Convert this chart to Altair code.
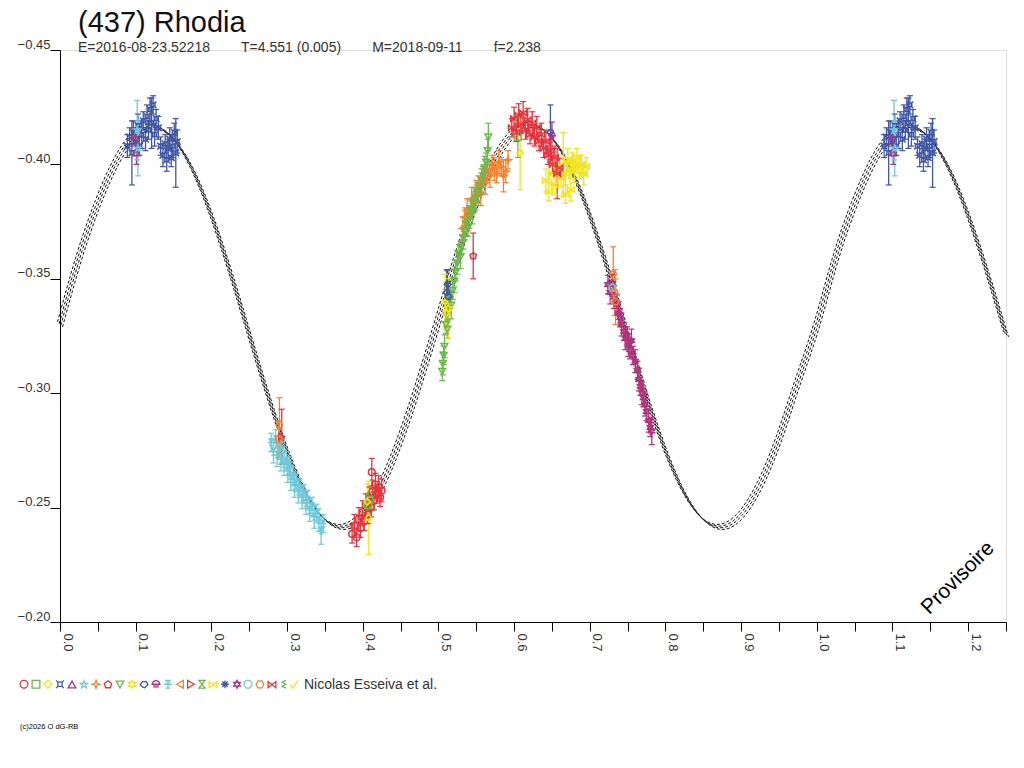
import altair as alt
import pandas as pd

FONT = "Liberation Sans"

# ---- fitted curve (phase, reduced magnitude) ----
curve_phase = [0.000, 0.025, 0.050, 0.075, 0.100, 0.125, 0.150, 0.175, 0.200, 0.225,
               0.250, 0.275, 0.300, 0.325, 0.350, 0.375, 0.400, 0.425, 0.450, 0.475,
               0.500, 0.525, 0.550, 0.575, 0.600, 0.625, 0.650, 0.675, 0.700, 0.725,
               0.750, 0.775, 0.800, 0.825, 0.850, 0.875, 0.900, 0.925, 0.950, 0.975,
               1.000, 1.025, 1.050, 1.075, 1.100, 1.125, 1.150, 1.175, 1.200, 1.225, 1.250]
curve_mag = [-0.3300, -0.3592, -0.3831, -0.4017, -0.4132, -0.4164, -0.4111, -0.3978, -0.3777, -0.3529,
             -0.3257, -0.2988, -0.2749, -0.2563, -0.2448, -0.2416, -0.2469, -0.2602, -0.2803, -0.3051,
             -0.3323, -0.3598, -0.3840, -0.4025, -0.4140, -0.4172, -0.4115, -0.3980, -0.3777, -0.3529,
             -0.3257, -0.2988, -0.2749, -0.2563, -0.2448, -0.2416, -0.2469, -0.2602, -0.2803, -0.3051,
             -0.3300, -0.3592, -0.3831, -0.4017, -0.4132, -0.4164, -0.4111, -0.3978, -0.3777, -0.3529,
             -0.3257]

# ---- sessions (legend order): colours and symbols ----
SESSIONS = ["S%02d" % i for i in range(1, 25)]
COLORS = ["#e8323c", "#6cb84c", "#f2e41c", "#3f55a5", "#b2327e", "#6fc9da", "#f3812e",
          "#e8323c", "#6cb84c", "#f2e41c", "#3f55a5", "#b2327e", "#6fc9da", "#f3812e",
          "#e8323c", "#6cb84c", "#f2e41c", "#3f55a5", "#b2327e", "#6fc9da", "#f3812e",
          "#e8323c", "#6cb84c", "#f2e41c"]
SHAPES = [
    "circle",
    "square",
    "diamond",
    "M-0.55,-0.55L0.55,-0.55L0.55,0.55L-0.55,0.55Z M-0.55,-0.55L-1,-1 M0.55,-0.55L1,-1 M0.55,0.55L1,1 M-0.55,0.55L-1,1",
    "triangle-up",
    "M0,-1L0.24,-0.33L0.95,-0.31L0.38,0.12L0.59,0.81L0,0.4L-0.59,0.81L-0.38,0.12L-0.95,-0.31L-0.24,-0.33Z",
    "M0,-1L0.25,-0.25L1,0L0.25,0.25L0,1L-0.25,0.25L-1,0L-0.25,-0.25Z",
    "M0,-1L0.95,-0.31L0.59,0.81L-0.59,0.81L-0.95,-0.31Z",
    "triangle-down",
    "M0,-1L0.3,-0.45L0.95,-0.55L0.55,0L0.95,0.55L0.3,0.45L0,1L-0.3,0.45L-0.95,0.55L-0.55,0L-0.95,-0.55L-0.3,-0.45Z",
    "M-1,0L-0.4,-0.8L0.6,-0.8L1,0L0.2,0.8L-0.4,0.6Z",
    "M-1,0L-0.7,-0.7L0,-1L0.7,-0.7L1,0Z M-0.5,0L-0.5,0.9 M0,0L0,1 M0.5,0L0.5,0.9",
    "M-0.6,-1L0.6,-1L0,-0.3Z M-1,0L1,0 M0,-0.3L0,1 M-0.6,1L0.6,1",
    "triangle-left",
    "triangle-right",
    "M-0.8,-1L0.8,-1L-0.8,1L0.8,1Z",
    "M-1,-0.8L1,0.8L1,-0.8L-1,0.8Z",
    "M0,-1L0,1 M-1,0L1,0 M-0.7,-0.7L0.7,0.7 M-0.7,0.7L0.7,-0.7",
    "M0,-1L0.87,0.5L-0.87,0.5Z M0,1L0.87,-0.5L-0.87,-0.5Z",
    "M-0.4,-1L0.4,-1L1,-0.4L1,0.4L0.4,1L-0.4,1L-1,0.4L-1,-0.4Z",
    "M-0.5,-0.9L0.5,-0.9L1,0L0.5,0.9L-0.5,0.9L-1,0Z",
    "M-1,-0.8L1,0.8L1,-0.8L-1,0.8Z",
    "M0.5,-1L-0.5,-0.5L0.5,0L-0.5,0.5L0.5,1",
    "M-1,0.2L-0.3,1L1,-1",
]

# ---- observations (phase, mag, error) per session ----
s01 = [(0.386, -0.2385, 0.004), (0.389, -0.2420, 0.005), (0.392, -0.2370, 0.004), (0.395, -0.2450, 0.005),
       (0.397, -0.2410, 0.004), (0.400, -0.2480, 0.005), (0.402, -0.2440, 0.004), (0.404, -0.2510, 0.005),
       (0.407, -0.2470, 0.004), (0.409, -0.2540, 0.005), (0.411, -0.2500, 0.004), (0.412, -0.2655, 0.006),
       (0.413, -0.2570, 0.005), (0.415, -0.2530, 0.004), (0.417, -0.2600, 0.005), (0.419, -0.2560, 0.004),
       (0.421, -0.2590, 0.005), (0.423, -0.2545, 0.004), (0.425, -0.2575, 0.005)]
s02 = [(0.407, -0.2511, 0.004), (0.409, -0.2535, 0.003), (0.605, -0.4120, 0.009)]
s03 = [(0.406, -0.2525, 0.008), (0.408, -0.2455, 0.016), (0.608, -0.4050, 0.016)]
s04 = [(0.089, -0.408, 0.005), (0.092, -0.412, 0.004), (0.095, -0.405, 0.014), (0.097, -0.414, 0.005),
       (0.100, -0.410, 0.004), (0.103, -0.417, 0.005), (0.105, -0.408, 0.004), (0.108, -0.413, 0.006),
       (0.110, -0.419, 0.004), (0.113, -0.411, 0.005), (0.115, -0.421, 0.005), (0.117, -0.415, 0.004),
       (0.119, -0.424, 0.005), (0.121, -0.418, 0.011), (0.123, -0.426, 0.004), (0.125, -0.413, 0.005),
       (0.127, -0.420, 0.004), (0.130, -0.416, 0.005), (0.133, -0.408, 0.004), (0.136, -0.404, 0.005),
       (0.139, -0.409, 0.004), (0.141, -0.402, 0.005), (0.143, -0.407, 0.004), (0.145, -0.411, 0.005),
       (0.147, -0.403, 0.004), (0.149, -0.408, 0.005), (0.151, -0.414, 0.004), (0.153, -0.405, 0.015),
       (0.155, -0.410, 0.005)]
s05 = [(0.099, -0.412, 0.004), (0.101, -0.405, 0.005)]
s06 = [(0.102, -0.415, 0.013), (0.103, -0.407, 0.012)]
s07 = [(0.532, -0.3720, 0.005), (0.535, -0.3770, 0.004), (0.538, -0.3800, 0.005), (0.541, -0.3780, 0.004),
       (0.544, -0.3850, 0.005), (0.547, -0.3830, 0.004), (0.550, -0.3880, 0.005), (0.553, -0.3910, 0.004),
       (0.556, -0.3870, 0.005), (0.559, -0.3940, 0.004), (0.562, -0.3920, 0.005), (0.565, -0.3970, 0.004),
       (0.568, -0.3950, 0.005), (0.571, -0.4000, 0.004), (0.574, -0.3980, 0.005), (0.577, -0.3960, 0.004),
       (0.580, -0.4010, 0.005), (0.583, -0.3990, 0.004), (0.586, -0.3950, 0.007), (0.589, -0.3970, 0.005),
       (0.592, -0.4020, 0.004)]
s08 = [(0.546, -0.3600, 0.010)]
s09 = [(0.505, -0.3095, 0.004), (0.506, -0.3130, 0.005), (0.507, -0.3165, 0.004), (0.508, -0.3205, 0.005),
       (0.510, -0.3300, 0.004), (0.511, -0.3340, 0.005), (0.512, -0.3280, 0.004), (0.513, -0.3370, 0.005),
       (0.515, -0.3410, 0.004), (0.517, -0.3385, 0.006), (0.519, -0.3450, 0.004), (0.521, -0.3490, 0.005),
       (0.523, -0.3530, 0.004), (0.525, -0.3570, 0.005), (0.527, -0.3610, 0.004), (0.529, -0.3595, 0.005),
       (0.531, -0.3650, 0.004), (0.533, -0.3680, 0.005), (0.535, -0.3710, 0.004), (0.537, -0.3740, 0.005),
       (0.539, -0.3725, 0.004), (0.541, -0.3770, 0.005), (0.543, -0.3800, 0.004), (0.545, -0.3790, 0.005),
       (0.547, -0.3830, 0.004), (0.549, -0.3850, 0.005), (0.551, -0.3880, 0.004), (0.553, -0.3870, 0.005),
       (0.555, -0.3905, 0.004), (0.557, -0.3930, 0.005), (0.559, -0.3950, 0.004), (0.561, -0.3985, 0.005),
       (0.563, -0.4010, 0.004), (0.565, -0.4060, 0.005), (0.566, -0.4120, 0.006)]
s10 = [(0.509, -0.3400, 0.012), (0.511, -0.3350, 0.008), (0.513, -0.3370, 0.013)]
s11 = [(0.511, -0.3440, 0.010), (0.512, -0.3475, 0.006), (0.513, -0.3420, 0.006), (0.648, -0.4140, 0.012)]
s12 = [(0.650, -0.4125, 0.006)]
s13 = [(0.279, -0.2785, 0.004), (0.282, -0.2745, 0.005), (0.285, -0.2800, 0.004), (0.287, -0.2730, 0.005),
       (0.290, -0.2770, 0.004), (0.292, -0.2710, 0.005), (0.294, -0.2750, 0.004), (0.296, -0.2690, 0.005),
       (0.299, -0.2705, 0.004), (0.301, -0.2660, 0.005), (0.303, -0.2685, 0.004), (0.305, -0.2625, 0.005),
       (0.308, -0.2640, 0.004), (0.310, -0.2595, 0.005), (0.312, -0.2610, 0.004), (0.315, -0.2570, 0.005),
       (0.317, -0.2585, 0.004), (0.320, -0.2545, 0.005), (0.322, -0.2560, 0.004), (0.325, -0.2520, 0.005),
       (0.327, -0.2535, 0.004), (0.330, -0.2490, 0.005), (0.333, -0.2505, 0.004), (0.336, -0.2460, 0.005),
       (0.339, -0.2475, 0.004), (0.342, -0.2445, 0.005), (0.345, -0.2400, 0.006), (0.348, -0.2430, 0.004)]
s15 = [(0.293, -0.2810, 0.012)]
s17 = [(0.642, -0.3930, 0.005), (0.646, -0.3880, 0.004), (0.650, -0.3960, 0.005), (0.654, -0.3910, 0.004),
       (0.658, -0.3985, 0.005), (0.662, -0.3940, 0.004), (0.665, -0.4000, 0.014), (0.668, -0.3960, 0.005),
       (0.668, -0.3870, 0.004), (0.671, -0.4020, 0.005), (0.674, -0.3980, 0.004), (0.675, -0.3890, 0.005),
       (0.677, -0.4010, 0.004), (0.680, -0.3970, 0.005), (0.683, -0.4030, 0.004), (0.686, -0.3990, 0.005),
       (0.689, -0.4000, 0.004), (0.692, -0.3960, 0.005), (0.695, -0.3990, 0.004)]
s19 = [(0.724, -0.3475, 0.004), (0.727, -0.3440, 0.005), (0.730, -0.3480, 0.004), (0.732, -0.3420, 0.005),
       (0.736, -0.3390, 0.004), (0.738, -0.3350, 0.005), (0.740, -0.3330, 0.004), (0.742, -0.3300, 0.005),
       (0.745, -0.3270, 0.004), (0.747, -0.3240, 0.005), (0.749, -0.3250, 0.004), (0.751, -0.3210, 0.005),
       (0.753, -0.3190, 0.004), (0.755, -0.3230, 0.005), (0.757, -0.3165, 0.004), (0.760, -0.3140, 0.005),
       (0.763, -0.3100, 0.004), (0.765, -0.3060, 0.005), (0.767, -0.3030, 0.004), (0.769, -0.3000, 0.005),
       (0.771, -0.2980, 0.004), (0.773, -0.2950, 0.005), (0.775, -0.2920, 0.004), (0.778, -0.2880, 0.005),
       (0.780, -0.2850, 0.004), (0.782, -0.2835, 0.006)]
s20 = [(0.730, -0.3460, 0.004)]
s21 = [(0.290, -0.2860, 0.012), (0.289, -0.2800, 0.008), (0.731, -0.3520, 0.012), (0.733, -0.3440, 0.010),
       (0.734, -0.3400, 0.010)]
s22 = [(0.597, -0.4160, 0.004), (0.600, -0.4200, 0.005), (0.603, -0.4140, 0.004), (0.606, -0.4215, 0.005),
       (0.609, -0.4175, 0.004), (0.612, -0.4225, 0.005), (0.615, -0.4150, 0.004), (0.618, -0.4195, 0.005),
       (0.621, -0.4130, 0.004), (0.624, -0.4180, 0.005), (0.627, -0.4120, 0.004), (0.630, -0.4160, 0.005),
       (0.633, -0.4100, 0.004), (0.636, -0.4130, 0.005), (0.639, -0.4070, 0.004), (0.642, -0.4100, 0.005),
       (0.645, -0.4040, 0.004), (0.648, -0.4060, 0.005), (0.651, -0.4000, 0.004), (0.654, -0.4030, 0.005),
       (0.657, -0.3960, 0.011), (0.660, -0.3985, 0.004)]

obs = {"S01": s01, "S02": s02, "S03": s03, "S04": s04, "S05": s05, "S06": s06, "S07": s07,
       "S08": s08, "S09": s09, "S10": s10, "S11": s11, "S12": s12, "S13": s13, "S15": s15,
       "S17": s17, "S19": s19, "S20": s20, "S21": s21, "S22": s22}

rows = []
for s, pts in obs.items():
    for p, m, e in pts:
        rows.append({"session": s, "phase": p, "mag": m, "lo": m - e, "hi": m + e})
        if p < 0.25:  # phase diagram repeats beyond 1.0
            rows.append({"session": s, "phase": p + 1.0, "mag": m, "lo": m - e, "hi": m + e})
pts_df = pd.DataFrame(rows)
curve_df = pd.DataFrame({"phase": curve_phase, "mag": curve_mag})

x_ticks = [round(i * 0.05, 2) for i in range(26)]
x_scale = alt.Scale(domain=[0, 1.25], nice=False, zero=False)
y_scale = alt.Scale(domain=[-0.45, -0.20], nice=False, zero=False, reverse=True)
x_axis = alt.Axis(values=x_ticks, title=None, grid=False, tickSize=9, tickColor="#000",
                  domainColor="#000", labelAngle=90, labelAlign="left", labelBaseline="bottom",
                  labelPadding=2, labelFont=FONT, labelFontSize=13, labelColor="#333",
                  labelOverlap=False,
                  labelExpr="abs(datum.value*10 - round(datum.value*10)) < 0.01 ? format(datum.value, '.1f') : ''")
y_axis = alt.Axis(values=[-0.45, -0.40, -0.35, -0.30, -0.25, -0.20], format=".2f", title=None,
                  grid=False, tickSize=10, tickColor="#000", domainColor="#000", labelPadding=0,
                  labelBaseline="alphabetic", labelOffset=-2, labelFont=FONT, labelFontSize=13,
                  labelColor="#333")

legend = alt.Legend(title="Nicolas Esseiva et al.", orient="none", legendX=-41, legendY=629,
                    direction="horizontal", titleOrient="right", labelExpr="''", labelOffset=0,
                    symbolSize=60, symbolStrokeWidth=1.3, columnPadding=-5.5,
                    symbolFillColor="transparent",
                    titleFont=FONT, titleFontSize=14, titleFontWeight="normal", titleColor="#333",
                    titlePadding=4, titleLimit=400)
color_enc = alt.Color("session:N", scale=alt.Scale(domain=SESSIONS, range=COLORS), legend=legend)
shape_enc = alt.Shape("session:N", scale=alt.Scale(domain=SESSIONS, range=SHAPES), legend=legend)

X = alt.X("phase:Q", scale=x_scale, axis=x_axis)
Y = alt.Y("mag:Q", scale=y_scale, axis=y_axis)

layers = []
for dx, dy in [(-2.5, -2.5), (-0.8, -0.8), (0.8, 0.8), (2.5, 2.5)]:
    layers.append(
        alt.Chart(curve_df).mark_line(interpolate="natural", color="#111", strokeWidth=1,
                                      strokeDash=[3, 2], xOffset=dx, yOffset=dy)
        .encode(x=X, y=Y)
    )

errs = alt.Chart(pts_df).mark_rule(strokeWidth=1.3).encode(
    x=X, y=alt.Y("lo:Q", scale=y_scale, axis=y_axis), y2="hi:Q", color=color_enc)
caps_lo = alt.Chart(pts_df).mark_rule(strokeWidth=1.2, xOffset=-3, x2Offset=3).encode(
    x=X, x2="phase:Q", y=alt.Y("lo:Q", scale=y_scale, axis=y_axis), color=color_enc)
caps_hi = alt.Chart(pts_df).mark_rule(strokeWidth=1.2, xOffset=-3, x2Offset=3).encode(
    x=X, x2="phase:Q", y=alt.Y("hi:Q", scale=y_scale, axis=y_axis), color=color_enc)
marks = alt.Chart(pts_df).mark_point(filled=False, size=45, strokeWidth=1.5, opacity=1).encode(
    x=X, y=Y, color=color_enc, shape=shape_enc)

prov = alt.Chart(pd.DataFrame({"t": ["Provisoire"]})).mark_text(
    font=FONT, fontSize=21, angle=315, color="#000", align="center", baseline="middle"
).encode(x=alt.value(898), y=alt.value(528), text="t:N")
copy = alt.Chart(pd.DataFrame({"t": ["(c)2026 O dG-RB"]})).mark_text(
    font=FONT, fontSize=7.5, color="#000", align="left", baseline="middle"
).encode(x=alt.value(-40), y=alt.value(677), text="t:N")

NB = "\u00a0" * 8
chart = alt.layer(*layers, errs, caps_lo, caps_hi, marks, prov, copy).properties(
    width=946, height=572,
    padding={"left": 52, "top": 42, "right": 10, "bottom": 130},
    autosize=alt.AutoSizeParams(type="none"),
    title=alt.Title(
        text="(437) Rhodia",
        subtitle="E=2016-08-23.52218" + NB + "T=4.551 (0.005)" + NB + "M=2018-09-11" + NB + "f=2.238",
        anchor="start", frame="group", dx=18, offset=-17, font=FONT, fontSize=29,
        fontWeight="normal", color="#111", subtitleFont=FONT, subtitleFontSize=14,
        subtitleColor="#333", subtitlePadding=3),
).configure_view(stroke=None).configure(background="white")

chart.save("out.html", embed_options={"renderer": "svg", "actions": False})
